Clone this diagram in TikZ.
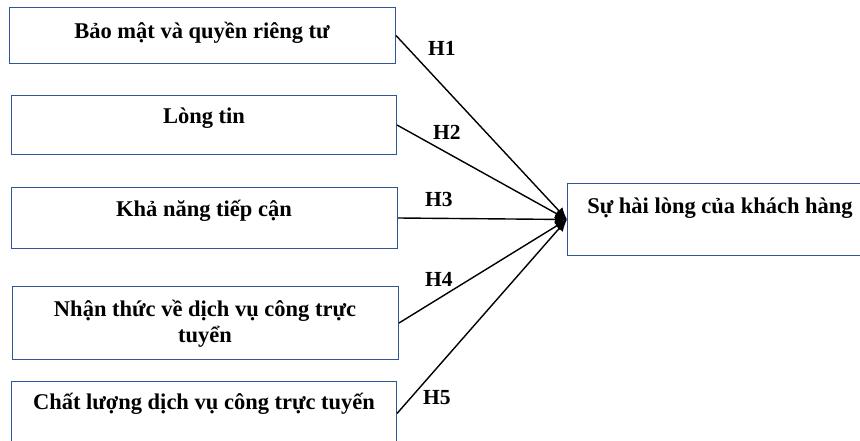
\documentclass[tikz,border=0pt]{standalone}
\usepackage{fontspec}
\setmainfont{Liberation Serif}
\usetikzlibrary{arrows.meta}
\definecolor{boxblue}{RGB}{47,85,151}
\tikzset{
  box/.style={draw=boxblue, line width=1pt, rectangle, inner sep=0pt, anchor=north west},
  txt/.style={font=\fontsize{22.5}{26}\selectfont\bfseries, inner sep=0pt, anchor=base, align=center},
  hl/.style={font=\fontsize{21.5}{24}\selectfont\bfseries, inner sep=0pt, anchor=base west},
  link/.style={line width=1.4pt, -{Latex[length=12pt,width=10pt]}}
}
\begin{document}
\begin{tikzpicture}[x=1pt,y=-1pt]
\useasboundingbox (0,0) rectangle (860,441);
\clip (0,0) rectangle (860,441);
\fill[white] (0,0) rectangle (860,441);
\node[box, minimum width=386pt, minimum height=56pt] (b1) at (9,7) {};
\node[box, minimum width=385pt, minimum height=59pt] (b2) at (11,95) {};
\node[box, minimum width=386pt, minimum height=61pt] (b3) at (11,187) {};
\node[box, minimum width=386pt, minimum height=73pt] (b4) at (12,286) {};
\node[box, minimum width=385pt, minimum height=64pt] (b5) at (11,381) {};
\node[box, minimum width=300pt, minimum height=72pt] (r) at (567,183) {};
\node[txt] (t1) at (202,39) {Bảo mật và quyền riêng tư};
\node[txt] (t2) at (204,124) {Lòng tin};
\node[txt] (t3) at (204,217) {Khả năng tiếp cận};
\node[txt] (t4) at (205,342) {Nhận thức về dịch vụ công trực\\tuyển};
\node[txt] (t5) at (204,409) {Chất lượng dịch vụ công trực tuyến};
\node[txt] (tr) at (720,213) {Sự hài lòng của khách hàng};
\draw[link] (b1.east) -- (r.west);
\draw[link] (b2.east) -- (r.west);
\draw[link] (b3.east) -- (r.west);
\draw[link] (b4.east) -- (r.west);
\draw[link] (b5.east) -- (r.west);
\node[hl] (h1) at (428,56) {H1};
\node[hl] (h2) at (433,140) {H2};
\node[hl] (h3) at (425,207) {H3};
\node[hl] (h4) at (425,286) {H4};
\node[hl] (h5) at (423,404) {H5};
\end{tikzpicture}
\end{document}
